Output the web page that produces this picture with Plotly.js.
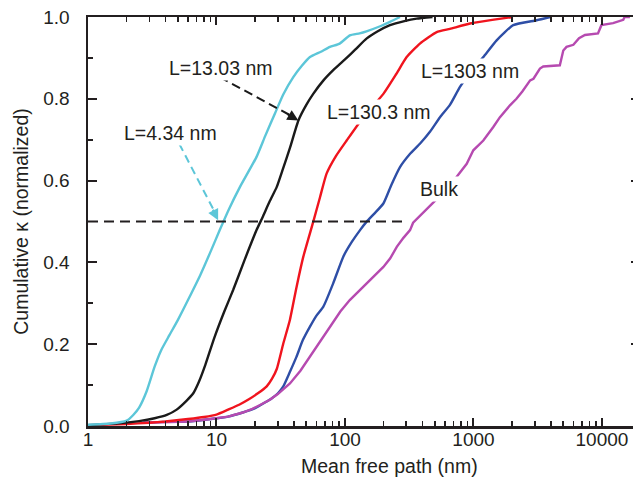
<!DOCTYPE html>
<html><head><meta charset="utf-8">
<script src="https://cdn.plot.ly/plotly-3.0.1.min.js"></script>
<style>html,body{margin:0;padding:0;overflow:hidden;background:#fff}</style>
</head><body><div id="chart"></div>
<script>
// ---- data ----
const xL434 = [1, 1.5, 2.0, 2.25, 2.5, 2.86, 3.3, 3.72, 4.3, 5.0, 6.0, 7.5, 9.1, 10.6, 12.5, 15.2, 20.5, 24, 28.5, 33, 39.6, 46, 53.4, 65, 76.4, 91, 109, 130, 147, 190, 224, 268];
const yL434 = [0.003, 0.006, 0.013, 0.027, 0.045, 0.085, 0.145, 0.186, 0.222, 0.259, 0.308, 0.37, 0.430, 0.479, 0.53, 0.584, 0.658, 0.71, 0.764, 0.81, 0.853, 0.88, 0.902, 0.915, 0.927, 0.935, 0.955, 0.96, 0.965, 0.978, 0.988, 1.0];

const xL1303 = [1, 1.82, 2.5, 3.3, 4.1, 4.9, 5.86, 6.6, 7.3, 8.2, 9.6, 11.5, 13.5, 16.5, 20.5, 22.8, 26, 29.4, 33, 37.3, 43.4, 50, 56.6, 68, 81, 103, 120, 147, 180, 224, 290, 361, 480];
const yL1303 = [0.002, 0.007, 0.012, 0.019, 0.027, 0.04, 0.062, 0.08, 0.108, 0.15, 0.215, 0.28, 0.333, 0.405, 0.479, 0.51, 0.55, 0.584, 0.63, 0.68, 0.747, 0.785, 0.812, 0.845, 0.870, 0.9, 0.92, 0.947, 0.965, 0.980, 0.99, 0.996, 1.0];

const xL130 = [1, 2, 3, 4, 6, 8, 10, 12.3, 15, 18, 21, 24.6, 27, 29.5, 33, 37.3, 42, 47.4, 56.6, 64, 71.9, 85, 103, 139, 199, 250, 302, 383, 517, 656, 939, 1400, 2030];
const yL130 = [0.002, 0.005, 0.008, 0.011, 0.017, 0.022, 0.028, 0.04, 0.052, 0.066, 0.08, 0.097, 0.115, 0.14, 0.2, 0.26, 0.34, 0.414, 0.499, 0.56, 0.617, 0.66, 0.698, 0.755, 0.812, 0.86, 0.902, 0.935, 0.963, 0.971, 0.984, 0.993, 1.0];

const xL1303b = [2.7, 4, 6, 9, 12.3, 16, 19.8, 24, 27, 30.1, 33, 37, 41.9, 47, 53.4, 60, 67.9, 81, 97, 113, 131, 147, 170, 199, 230, 268, 320, 383, 460, 549, 656, 785, 950, 1193, 1514, 2040, 3100, 3950];
const yL1303b = [0.008, 0.01, 0.011, 0.017, 0.023, 0.033, 0.043, 0.058, 0.068, 0.08, 0.096, 0.13, 0.169, 0.21, 0.243, 0.27, 0.292, 0.349, 0.414, 0.45, 0.479, 0.499, 0.52, 0.544, 0.59, 0.633, 0.665, 0.69, 0.72, 0.755, 0.785, 0.829, 0.865, 0.902, 0.943, 0.980, 0.992, 1.0];

const xBulk = [2.7, 4, 6, 9, 12.3, 16, 19, 22, 26, 30, 37.3, 45, 53.4, 65, 76.4, 92, 109, 128, 147, 170, 199, 225, 253, 285, 321, 339, 400, 475, 600, 738, 886, 997, 1193, 1426, 1607, 1923, 2160, 2400, 2760, 2930, 3290, 3490, 4700, 5000, 5300, 5990, 6630, 7370, 9310, 9900, 12200, 14650, 15000, 16500];
const yBulk = [0.008, 0.01, 0.011, 0.017, 0.023, 0.033, 0.042, 0.052, 0.064, 0.078, 0.104, 0.135, 0.169, 0.21, 0.243, 0.28, 0.308, 0.33, 0.349, 0.37, 0.389, 0.41, 0.438, 0.46, 0.479, 0.497, 0.52, 0.544, 0.575, 0.609, 0.641, 0.674, 0.698, 0.731, 0.755, 0.784, 0.800, 0.818, 0.845, 0.849, 0.874, 0.879, 0.882, 0.918, 0.927, 0.932, 0.948, 0.956, 0.96, 0.98, 0.985, 0.993, 1.0, 1.0];

const halfX = [1, 309];
const halfY = [0.5, 0.5];

const arrow434X = [5.13, 10.0];
const arrow434Y = [0.690, 0.515];
const arrow1303X = [10.6, 41];
const arrow1303Y = [0.853, 0.753];

const xTickVals = [1, 10, 100, 1000, 10000];
const xTickText = ['1', '10', '100', '1000', '10000'];
const yTickVals = [0, 0.2, 0.4, 0.6, 0.8, 1.0];
const yTickText = ['0.0', '0.2', '0.4', '0.6', '0.8', '1.0'];

const labels = [
  {text: 'L=4.34 nm', x: 4.38, y: 0.716},
  {text: 'L=13.03 nm', x: 10.84, y: 0.875},
  {text: 'L=130.3 nm', x: 184, y: 0.768},
  {text: 'L=1303 nm', x: 939, y: 0.869},
  {text: 'Bulk', x: 539, y: 0.579}
];

// ---- styles ----
const INK = '#231f20';
const FONT = 'Liberation Sans, Arial, Helvetica, sans-serif';
const cCyan = '#5cc6d8', cBlack = '#1a1a1a', cRed = '#f0141e', cBlue = '#2e4ea6', cMag = '#b64ab0';

function line(x, y, color, extra) {
  return Object.assign({x: x, y: y, type: 'scatter', mode: 'lines', hoverinfo: 'skip',
    line: {color: color, width: 2.4, shape: 'spline', smoothing: 0.5}}, extra || {});
}

const traces = [
  line(xL1303b, yL1303b, cBlue),
  line(xBulk, yBulk, cMag, {line: {color: cMag, width: 2.4}}),
  line(xL130, yL130, cRed),
  line(xL1303, yL1303, cBlack),
  line(xL434, yL434, cCyan),
  line(halfX, halfY, INK, {line: {color: INK, width: 2, dash: '10px,6px'}}),
  line(arrow434X, arrow434Y, cCyan, {line: {color: cCyan, width: 2, dash: '8px,5px'}}),
  line(arrow1303X, arrow1303Y, cBlack, {line: {color: cBlack, width: 2, dash: '9px,5px'}})
];

const annotations = labels.map(l => ({
  text: l.text, x: Math.log10(l.x), y: l.y, xref: 'x', yref: 'y',
  showarrow: false, xanchor: 'center', yanchor: 'middle',
  bgcolor: '#ffffff', borderpad: 1,
  font: {family: FONT, size: 19.5, color: INK}
}));
// arrow heads
annotations.push({x: Math.log10(10.3), y: 0.503, xref: 'x', yref: 'y', text: '',
  showarrow: true, arrowhead: 2, arrowsize: 1.1, arrowwidth: 2, arrowcolor: cCyan, ax: -6, ay: -12});
annotations.push({x: Math.log10(43.4), y: 0.747, xref: 'x', yref: 'y', text: '',
  showarrow: true, arrowhead: 2, arrowsize: 1.1, arrowwidth: 2, arrowcolor: cBlack, ax: -12, ay: -7});
// x axis title
annotations.push({text: 'Mean free path (nm)', xref: 'paper', yref: 'paper', x: 0.5453, y: 0,
  xanchor: 'center', yanchor: 'middle', yshift: -40, showarrow: false,
  font: {family: FONT, size: 19.5, color: INK}});

const axisCommon = {
  showline: true, linecolor: INK, linewidth: 2.5, mirror: 'allticks',
  ticks: 'inside', tickcolor: INK, tickwidth: 2,
  showgrid: false, zeroline: false, tickfont: {family: FONT, size: 19, color: INK},
  fixedrange: true
};

const layout = {
  width: 640, height: 477,
  margin: {l: 88, r: 0, t: 17, b: 51},
  paper_bgcolor: '#ffffff', plot_bgcolor: '#ffffff',
  showlegend: false, hovermode: false,
  font: {family: FONT, color: INK},
  xaxis: Object.assign({}, axisCommon, {
    type: 'log', range: [0, Math.log10(19770)],
    tickmode: 'array', tickvals: xTickVals, ticktext: xTickText, ticklen: 8,
    ticklabelstandoff: -5,
    minor: {dtick: 'D1', ticks: 'inside', ticklen: 5, tickwidth: 1.6, tickcolor: INK, showgrid: false}
  }),
  yaxis: Object.assign({}, axisCommon, {
    range: [0, 1], tickmode: 'array', tickvals: yTickVals, ticktext: yTickText, ticklen: 9,
    ticklabelstandoff: 12,
    minor: {dtick: 0.1, ticks: 'inside', ticklen: 5, tickwidth: 1.6, tickcolor: INK, showgrid: false},
    title: {text: 'Cumulative κ (normalized)', font: {family: FONT, size: 19.5, color: INK}, standoff: 10}
  }),
  annotations: annotations
};

Plotly.newPlot('chart', traces, layout, {staticPlot: true, displayModeBar: false});
</script>
</body></html>
